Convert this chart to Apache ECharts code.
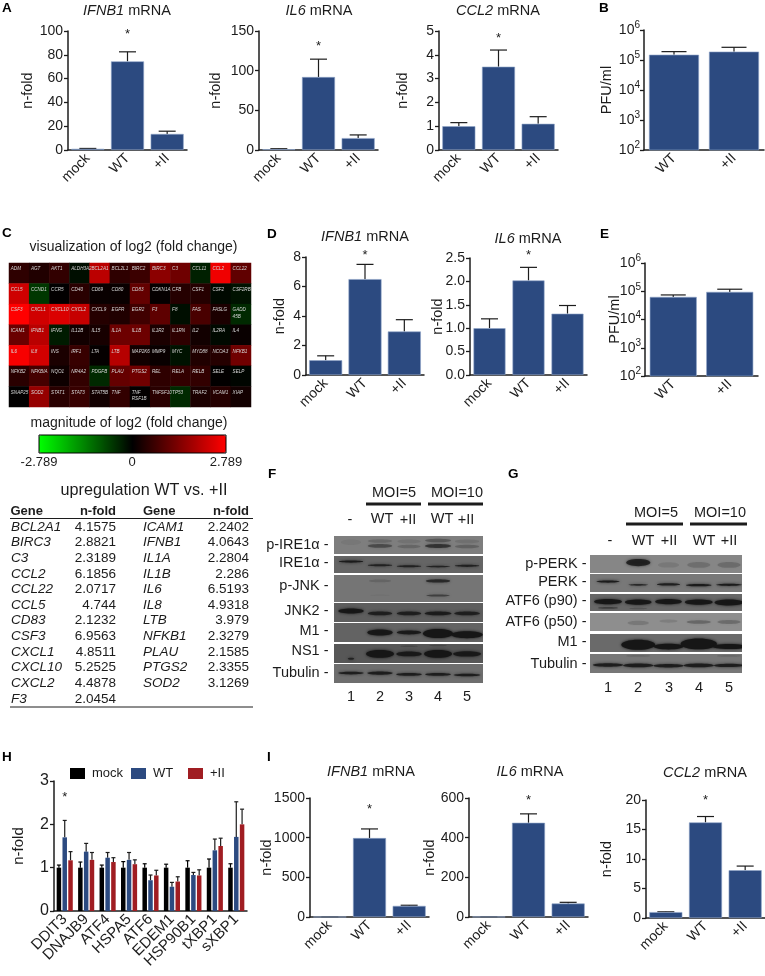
<!DOCTYPE html>
<html><head><meta charset="utf-8">
<style>html,body{margin:0;padding:0;background:#fff}#c{width:765px;height:976px}</style>
<script src="https://cdn.jsdelivr.net/npm/echarts@6/dist/echarts.min.js"></script>
</head><body><div id="c"></div>
<script>
// ---------- data ----------
const threeCats = ['mock','WT','+II'];
const twoCats = ['WT','+II'];
const aIfnb1 = [1,74.5,13.5], aIfnb1Top = [1.3,82.5,15.8];
const aIl6 = [1,92,15], aIl6Top = [1.6,114.5,19];
const aCcl2 = [1,3.5,1.1], aCcl2Top = [1.15,4.2,1.4];
const bPfu = [150000,190000], bPfuTop = [190000,265000];
const dIfnb1 = [1,6.5,2.95], dIfnb1Top = [1.3,7.5,3.75];
const dIl6 = [1,2.02,1.31], dIl6Top = [1.2,2.3,1.485];
const ePfu = [63000,95000], ePfuTop = [74000,118000];
const iIfnb1 = [1,995,140], iIfnb1Top = [2,1110,148];
const iIl6 = [1,475,68], iIl6Top = [1.5,520,74];
const iCcl2 = [1,16.2,8.1], iCcl2Top = [1.05,17.2,8.8];
const hGenes = ['DDIT3','DNAJB9','ATF4','HSPA5','ATF6','EDEM1','HSP90B1','tXBP1','sXBP1'];
const hMock = [1,1,1,1,1,1,1,1,1];
const hMockTop = [1.06,1.13,1.06,1.14,1.09,1.08,1.16,1.2,1.09];
const hWT = [1.7,1.37,1.23,1.18,0.71,0.56,0.83,1.4,1.71];
const hWTTop = [2.09,1.56,1.35,1.35,0.83,0.66,0.89,1.66,2.52];
const hII = [1.17,1.18,1.13,1.08,0.82,0.68,0.82,1.5,2.0];
const hIITop = [1.37,1.35,1.23,1.18,0.94,0.79,0.95,1.68,2.35];

const heatGenes = [
 ['ADM','AGT','AKT1','ALDH3A2','BCL2A1','BCL2L1','BIRC2','BIRC3','C3','CCL11','CCL2','CCL22'],
 ['CCL5','CCND1','CCR5','CD40','CD69','CD80','CD83','CDKN1A','CFB','CSF1','CSF2','CSF2RB'],
 ['CSF3','CXCL1','CXCL10','CXCL2','CXCL9','EGFR','EGR2','F3','F8','FAS','FASLG','GADD\n45B'],
 ['ICAM1','IFNB1','IFNG','IL12B','IL15','IL1A','IL1B','IL1R2','IL1RN','IL2','IL2RA','IL4'],
 ['IL6','IL8','INS','IRF1','LTA','LTB','MAP2K6','MMP9','MYC','MYD88','NCOA3','NFKB1'],
 ['NFKB2','NFKBIA','NQO1','NR4A2','PDGFB','PLAU','PTGS2','REL','RELA','RELB','SELE','SELP'],
 ['SNAP25','SOD2','STAT1','STAT3','STAT5B','TNF','TNF\nRSF1B','TNFSF10','TP53','TRAF2','VCAM1','XIAP']];
const heatLog2 = [
 [0.5,0.35,0.55,-0.15,2.05,0.5,0.65,1.53,1.21,-0.35,2.63,1.05],
 [2.25,-0.6,0.02,0.45,0.1,0.1,1.09,0.05,0.4,0.4,-0.1,-0.2],
 [2.8,2.28,2.39,2.17,0.4,0.35,0.7,1.03,-0.15,0.8,0.3,-0.45],
 [1.16,2.02,-0.3,0.2,0.25,1.19,1.19,0.3,0.5,0.2,-0.1,0.1],
 [2.7,2.3,0.3,0.6,0.05,1.99,0.2,0.1,-0.2,0.35,0.4,1.22],
 [0.45,0.75,0.15,0.55,-0.45,1.11,1.22,0.5,0.55,0.55,0.02,-0.05],
 [0.02,1.64,0.45,0.6,0.2,0.55,0.03,0.45,-0.45,0.3,0.4,0.2]];

const tblGenes1 = ['BCL2A1','BIRC3','C3','CCL2','CCL22','CCL5','CD83','CSF3','CXCL1','CXCL10','CXCL2','F3'];
const tblFold1 = ['4.1575','2.8821','2.3189','6.1856','2.0717','4.744','2.1232','6.9563','4.8511','5.2525','4.4878','2.0454'];
const tblGenes2 = ['ICAM1','IFNB1','IL1A','IL1B','IL6','IL8','LTB','NFKB1','PLAU','PTGS2','SOD2'];
const tblFold2 = ['2.2402','4.0643','2.2804','2.286','6.5193','4.9318','3.979','2.3279','2.1585','2.3355','3.1269'];

// blot bands: [lane, height in strip 0-1, darkness 0-1, half-width in lanes, half-thickness in strip units]
const fNames = ['p-IRE1\u03b1','IRE1\u03b1','p-JNK','JNK2','M1','NS1','Tubulin'];
const fBlot = [
 [[1,.35,.07,.35,.15],[2,.28,.18,.42,.1],[2,.55,.42,.42,.1],[3,.3,.1,.4,.1],[3,.58,.2,.4,.1],[4,.25,.32,.45,.1],[4,.55,.62,.45,.11],[5,.3,.12,.42,.1],[5,.58,.24,.42,.1]],
 [[1,.33,.9,.42,.06],[2,.55,.8,.42,.06],[3,.6,.8,.42,.06],[4,.62,.8,.42,.05],[5,.58,.8,.42,.06]],
 [[2,.22,.16,.38,.05],[4,.22,.7,.42,.06],[4,.76,.5,.4,.04],[2,.75,.04,.35,.03]],
 [[1,.42,.95,.44,.13],[2,.55,.8,.42,.1],[3,.55,.8,.42,.1],[4,.55,.85,.46,.1],[5,.55,.8,.44,.1]],
 [[2,.5,.95,.44,.16],[3,.5,.88,.42,.1],[4,.55,1,.52,.24],[5,.62,1,.54,.18]],
 [[1,.78,.75,.11,.05],[2,.52,1,.48,.2],[3,.52,.9,.44,.13],[4,.52,1,.48,.2],[5,.52,.9,.48,.14],[3,.12,.2,.3,.04],[4,.08,.2,.3,.04]],
 [[1,.48,.85,.44,.07],[2,.48,.85,.44,.09],[3,.55,.85,.44,.07],[4,.55,.85,.44,.07],[5,.58,.85,.46,.07]]];
const fShade = ['#7e7e7e','#656565','#757575','#5e5e5e','#636363','#575757','#6e6e6e'];
const gNames = ['p-PERK','PERK','ATF6 (p90)','ATF6 (p50)','M1','Tubulin'];
const gBlot = [
 [[2,.42,.8,.4,.2],[3,.55,.1,.35,.15],[4,.55,.18,.38,.16],[5,.55,.2,.38,.16]],
 [[1,.42,.9,.38,.06],[2,.6,.75,.32,.05],[3,.58,.85,.38,.06],[4,.62,.9,.42,.06],[5,.6,.9,.42,.06]],
 [[1,.45,.95,.46,.15],[1,.82,.45,.33,.05],[2,.48,.95,.44,.15],[2,.85,.2,.3,.04],[3,.45,.95,.44,.15],[4,.48,.95,.46,.15],[5,.5,.95,.48,.18]],
 [[2,.55,.16,.35,.12],[3,.45,.12,.3,.09],[4,.5,.28,.4,.1],[5,.5,.24,.38,.11]],
 [[2,.6,1,.56,.28],[3,.7,1,.5,.16],[4,.55,1,.6,.3],[5,.7,1,.55,.14]],
 [[1,.58,.85,.5,.09],[2,.6,.85,.5,.1],[3,.62,.85,.5,.09],[4,.6,.85,.5,.1],[5,.6,.85,.5,.09],[2,.1,.15,.4,.03],[5,.1,.15,.4,.03]]];
const gShade = ['#868686','#787878','#676767','#8e8e8e','#6a6a6a','#777777'];
const laneNumbers = ['1','2','3','4','5'];

// ---------- build ----------
const FONT = '"Liberation Sans", Arial, sans-serif';
const INK = '#1c1c1c', BLUE = '#2c4a80', RED = '#a01d22';
const grids = [], xAxes = [], yAxes = [], series = [], titles = [], legends = [], graphics = [];

function txt(t, x, y, o) {
  graphics.push({type:'text', silent:true, z:20, style:Object.assign({text:t, x:x, y:y, align:'center', verticalAlign:'middle',
    fontFamily:FONT, fontSize:14.5, fill:INK}, o||{})});
}
function ln(x1,y1,x2,y2,w) {
  graphics.push({type:'line', silent:true, z:20, shape:{x1,y1,x2,y2}, style:{stroke:INK, lineWidth:w}});
}
function letter(t,x,y){ txt(t,x,y,{align:'left',fontWeight:'bold',fontSize:13.5,fill:'#000'}); }
function head(gene, x, y){
  titles.push({text:'{i|'+gene+'} mRNA', left:x, top:y, padding:0, textAlign:'center', textVerticalAlign:'middle',
    textStyle:{fontFamily:FONT, fontSize:14.5, fontWeight:'normal', color:INK,
      rich:{i:{fontFamily:FONT, fontStyle:'italic', fontSize:14.5, color:INK}}}});
}
function errorSeries(gi, vals, tops, cap, offset, color) {
  return {type:'custom', xAxisIndex:gi, yAxisIndex:gi, silent:true, z:1,
    encode:{x:0,y:[1,2]},
    data:vals.map((v,i)=>[i,v,tops[i]]),
    renderItem:(p,api)=>{
      const a = api.coord([api.value(0),api.value(1)]), b = api.coord([api.value(0),api.value(2)]);
      const x = a[0]+offset;
      return {type:'group',children:[
        {type:'line',shape:{x1:x,y1:a[1],x2:x,y2:b[1]},style:{stroke:color,lineWidth:1.2}},
        {type:'line',shape:{x1:x-cap,y1:b[1],x2:x+cap,y2:b[1]},style:{stroke:color,lineWidth:1.2}}]};
    }};
}
function starSeries(gi, cat, val) {
  return {type:'custom', xAxisIndex:gi, yAxisIndex:gi, silent:true, z:3, data:[[cat,val]], encode:{x:0,y:1},
    renderItem:(p,api)=>{const c=api.coord([api.value(0),api.value(1)]);
      return {type:'text',style:{text:'*',x:c[0],y:c[1],align:'center',verticalAlign:'middle',fontSize:13,fontFamily:FONT,fill:INK}};}};
}
function axesFor(box, cats, yopt, nameText, gap, labelSize, rot) {
  const gi = grids.length;
  grids.push({left:box[0],top:box[1],width:box[2]-box[0],height:box[3]-box[1],containLabel:false});
  xAxes.push({type:'category',gridIndex:gi,data:cats,axisTick:{show:false},
    axisLine:{lineStyle:{color:INK,width:1.5}},
    axisLabel:{interval:0,rotate:rot||45,margin:6,fontFamily:FONT,fontSize:labelSize||14,color:INK}});
  yAxes.push(Object.assign({gridIndex:gi,splitLine:{show:false},name:nameText,nameLocation:'middle',nameRotate:90,nameGap:gap,nameMoveOverlap:false,
    nameTextStyle:{fontFamily:FONT,fontSize:14.5,color:INK},
    axisLine:{show:true,lineStyle:{color:INK,width:1.5}},axisTick:{show:true,length:4,lineStyle:{color:INK,width:1.3}},
    axisLabel:{margin:5,fontFamily:FONT,fontSize:14,color:INK,showMinLabel:true,showMaxLabel:true,formatter:v=>String(v)}},yopt));
  return gi;
}
function barPanel(box, cats, vals, tops, yopt, o) {
  const gi = axesFor(box, cats, yopt, o.name||'n-fold', o.gap);
  const slot = (box[2]-box[0])/cats.length;
  series.push({type:'bar',xAxisIndex:gi,yAxisIndex:gi,data:vals,barWidth:o.bw||Math.round(slot*0.83),silent:true,z:2,clip:true,
    itemStyle:{color:BLUE,borderColor:'#8ea4c8',borderWidth:0.6}});
  series.push(errorSeries(gi,vals,tops,o.cap||8.5,0,INK));
  if (o.star!==undefined) series.push(starSeries(gi,1,o.star));
}
const logAxis = {type:'log',logBase:10,min:100,max:1000000,
  axisLabel:{margin:4,fontFamily:FONT,color:INK,showMinLabel:true,showMaxLabel:true,
    formatter:v=>'{b|10}{s|'+Math.round(Math.log10(v))+'}',
    rich:{b:{fontFamily:FONT,fontSize:14,color:INK},s:{fontFamily:FONT,fontSize:10,color:INK,padding:[0,0,9,0]}}}};

// heatmap first so visualMap can address series 0
(function(){
  const gi = grids.length;
  const hd = [];
  heatLog2.forEach((r,y)=>r.forEach((v,x)=>hd.push([x,y,v,heatGenes[y][x]])));
  grids.push({left:9,top:263,width:242,height:144});
  xAxes.push({type:'category',gridIndex:gi,show:false,data:heatGenes[0].map((_,i)=>i)});
  yAxes.push({type:'category',gridIndex:gi,show:false,inverse:true,data:heatGenes.map((_,i)=>i)});
  series.push({type:'heatmap',xAxisIndex:gi,yAxisIndex:gi,data:hd,silent:true,
    label:{show:true,position:[2,3],align:'left',verticalAlign:'top',fontFamily:FONT,fontStyle:'italic',fontSize:4.6,lineHeight:6.5,color:'#d8d8d8',
      formatter:p=>p.data[3]},
    itemStyle:{borderWidth:0}});
})();

// panels
letter('A',2,8); letter('B',599,8); letter('C',2,233); letter('D',267,234); letter('E',600,234);
letter('F',268,474); letter('G',508,474); letter('H',2,757); letter('I',267,757);

head('IFNB1',127,11); head('IL6',319,11); head('CCL2',498,11);
head('IFNB1',365,237); head('IL6',528,239);
head('IFNB1',371,772); head('IL6',530,772); head('CCL2',705,773);

barPanel([68,31,187,150],threeCats,aIfnb1,aIfnb1Top,{type:'value',min:0,max:100,interval:20},{gap:33,star:97});
barPanel([259,31,378,150],threeCats,aIl6,aIl6Top,{type:'value',min:0,max:150,interval:50},{gap:36,star:131});
barPanel([439,31,558,150],threeCats,aCcl2,aCcl2Top,{type:'value',min:0,max:5,interval:1},{gap:29,star:4.68});
barPanel([644,30,764,150],twoCats,bPfu,bPfuTop,logAxis,{name:'PFU/ml',gap:30,bw:50,cap:12.5});
barPanel([306,257,424,375],threeCats,dIfnb1,dIfnb1Top,{type:'value',min:0,max:8,interval:2},{gap:19,star:8.1});
barPanel([470,258,587,375],threeCats,dIl6,dIl6Top,{type:'value',min:0,max:2.5,interval:0.5,axisLabel:{margin:5,fontFamily:FONT,fontSize:14,color:INK,showMinLabel:true,showMaxLabel:true,formatter:v=>v.toFixed(1)}},{gap:25,star:2.56});
barPanel([645,263,758,376],twoCats,ePfu,ePfuTop,logAxis,{name:'PFU/ml',gap:23,bw:47,cap:12.5});
barPanel([310,798,429,917],threeCats,iIfnb1,iIfnb1Top,{type:'value',min:0,max:1500,interval:500},{gap:36,star:1360});
barPanel([469,798,588,917],threeCats,iIl6,iIl6Top,{type:'value',min:0,max:600,interval:200},{gap:32,star:590});
barPanel([646,800,765,918],threeCats,iCcl2,iCcl2Top,{type:'value',min:0,max:20,interval:5},{gap:32,star:20});

// H
(function(){
  const gi = axesFor([54,781,247,911],hGenes,{type:'value',min:0,max:3,interval:1,
    axisLabel:{margin:5,fontFamily:FONT,fontSize:16,color:INK,showMinLabel:true,showMaxLabel:true}},'n-fold',28,15,45);
  yAxes[gi].nameTextStyle.fontSize=15;
  const sets=[['mock',hMock,hMockTop,'#000000'],['WT',hWT,hWTTop,BLUE],['+II',hII,hIITop,RED]];
  const step = 5.8;
  sets.forEach((s,i)=>{
    series.push({type:'bar',name:s[0],xAxisIndex:gi,yAxisIndex:gi,data:s[1],barWidth:4.5,barGap:'29%',silent:true,z:2,itemStyle:{color:s[3]}});
  });
  sets.forEach((s,i)=>{ series.push(errorSeries(gi,s[1],s[2],2,(i-1)*step,i===0?'#000':INK)); });
  series.push(starSeries(gi,0,2.62));
  const lx=[70,131,188];
  sets.forEach((s,i)=>{
    legends.push({data:[s[0]],left:lx[i],top:767,padding:0,itemWidth:15,itemHeight:11,itemGap:0,selectedMode:false,icon:'rect',
      textStyle:{fontFamily:FONT,fontSize:13,color:INK,padding:[0,0,0,2]}});
  });
})();

// heatmap texts
txt('visualization of log2 (fold change)',133.5,247,{fontSize:14});
txt('magnitude of log2 (fold change)',129,423,{fontSize:14});
txt('-2.789',39,462,{fontSize:13}); txt('0',132,462,{fontSize:13}); txt('2.789',226,462,{fontSize:13});
graphics.push({type:'rect',silent:true,z:20,shape:{x:39,y:435,width:187,height:18},style:{fill:'none',stroke:'#000',lineWidth:1}});

// table
txt('upregulation WT vs. +II',144,491,{fontSize:16.2});
const T0=527, TD=15.62, tIt={align:'left',fontStyle:'italic',fontSize:13.5}, tRt={align:'right',fontSize:13.5}, tHd={fontWeight:'bold',fontSize:13};
txt('Gene',10.5,511,Object.assign({align:'left'},tHd)); txt('n-fold',116,511,Object.assign({align:'right'},tHd));
txt('Gene',143,511,Object.assign({align:'left'},tHd)); txt('n-fold',249,511,Object.assign({align:'right'},tHd));
ln(10,518.5,253,518.5,1); ln(10,707,253,707,1);
tblGenes1.forEach((g,i)=>{txt(g,11,T0+i*TD,tIt); txt(tblFold1[i],116,T0+i*TD,tRt);});
tblGenes2.forEach((g,i)=>{txt(g,143,T0+i*TD,tIt); txt(tblFold2[i],249,T0+i*TD,tRt);});

// blots
function blotStrip(rect, lanes, shade, bands) {
  const gi = grids.length;
  grids.push({left:rect[0],top:rect[1],width:rect[2]-rect[0],height:rect[3]-rect[1],show:true,backgroundColor:shade,borderWidth:0});
  xAxes.push({type:'value',gridIndex:gi,show:false,min:lanes[0],max:lanes[1]});
  yAxes.push({type:'value',gridIndex:gi,show:false,min:0,max:1,inverse:true});
  series.push({type:'custom',xAxisIndex:gi,yAxisIndex:gi,silent:true,data:bands,encode:{x:0,y:1},
    renderItem:(p,api)=>{
      const c=api.coord([api.value(0),api.value(1)]);
      const s=api.size([api.value(3),api.value(4)]);
      const a=api.value(2);
      return {type:'ellipse',shape:{cx:c[0],cy:c[1],rx:s[0],ry:Math.max(s[1],0.8)},
        style:{fill:'rgba(22,22,22,'+a+')',shadowBlur:3,shadowColor:'rgba(22,22,22,'+a+')'},
        clipPath:{type:'rect',shape:{x:p.coordSys.x,y:p.coordSys.y,width:p.coordSys.width,height:p.coordSys.height}}};
    }});
}
const fRows=[[536,554],[556,573],[575,602],[603,622],[623,642],[644,663],[664,683]];
fBlot.forEach((b,i)=>{
  blotStrip([334,fRows[i][0],483,fRows[i][1]],[0.414,5.55],fShade[i],b);
});
const fLabelY=[545,563,586,611,631,651,673];
fNames.forEach((n,i)=>{txt(n+' -',328.5,fLabelY[i],{align:'right'});});
[351,380,409,438,467].forEach((x,i)=>txt(laneNumbers[i],x,697));
txt('MOI=5',394,493); txt('MOI=10',457,493);
ln(366,504,421,504,3); ln(428,504,483,504,3);
txt('-',350,520); txt('WT',382,519); txt('+II',408,520); txt('WT',442,519); txt('+II',466,520);

const gRows=[[555,573],[574,592],[594,611],[613,631],[634,652],[654,673]];
gBlot.forEach((b,i)=>{
  blotStrip([590,gRows[i][0],742,gRows[i][1]],[0.405,5.43],gShade[i],b);
});
const gLabelY=[564,582,601,622,642,664];
gNames.forEach((n,i)=>{txt(n+' -',586.5,gLabelY[i],{align:'right'});});
[608,638,669,699,729].forEach((x,i)=>txt(laneNumbers[i],x,688));
txt('MOI=5',656,513); txt('MOI=10',720,513);
ln(626,524,683,524,3); ln(690,524,747,524,3);
txt('-',610,541); txt('WT',643,541); txt('+II',669,541); txt('WT',704,541); txt('+II',729,541);

const chart = echarts.init(document.getElementById('c'),null,{renderer:'canvas',width:765,height:976});
chart.setOption({
  animation:false, backgroundColor:'#fff', textStyle:{fontFamily:FONT},
  title:titles, grid:grids, xAxis:xAxes, yAxis:yAxes, series:series, legend:legends,
  visualMap:{type:'continuous',seriesIndex:0,dimension:2,min:-2.789,max:2.789,orient:'horizontal',left:39,top:435,
    itemWidth:18,itemHeight:187,padding:0,calculable:false,showLabel:false,text:null,hoverLink:false,realtime:false,
    inRange:{color:['#00ff00','#000000','#ff0000']},textStyle:{fontSize:0}},
  graphic:{elements:graphics}
});
</script></body></html>
